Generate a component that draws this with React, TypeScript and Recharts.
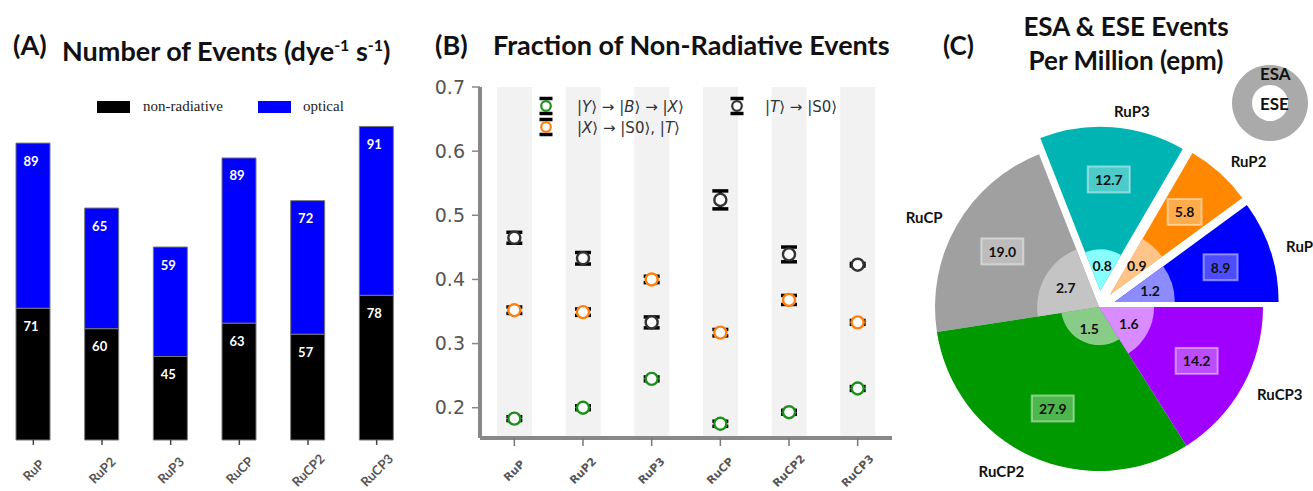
import React from "react";
import {
  BarChart,
  Bar,
  XAxis,
  YAxis,
  LabelList,
  ComposedChart,
  Line,
  ErrorBar,
  PieChart,
  Pie,
  Cell,
} from "recharts";

// ---- data ----
const categories = ["RuP", "RuP2", "RuP3", "RuCP", "RuCP2", "RuCP3"];

// (A) events per dye per second
const nonRadiative = [71, 60, 45, 63, 57, 78];
const optical = [89, 65, 59, 89, 72, 91];

// (B) fraction of non-radiative events
const fracYBX = [0.183, 0.2, 0.245, 0.175, 0.193, 0.23];
const fracYBXErr = [0.003, 0.003, 0.003, 0.004, 0.003, 0.003];
const fracXS0T = [0.352, 0.349, 0.4, 0.317, 0.368, 0.333];
const fracXS0TErr = [0.005, 0.005, 0.005, 0.005, 0.007, 0.003];
const fracTS0 = [0.465, 0.433, 0.333, 0.524, 0.439, 0.423];
const fracTS0Err = [0.0085, 0.009, 0.0085, 0.014, 0.0115, 0.002];
const fracTicks = [0.2, 0.3, 0.4, 0.5, 0.6, 0.7];

// (C) events per million
const esaValues = [8.9, 5.8, 12.7, 19.0, 27.9, 14.2];
const eseValues = [1.2, 0.9, 0.8, 2.7, 1.5, 1.6];
const explode = [0.1, 0.1, 0.1, 0, 0, 0];

const OUTER_COLORS = ["#0000ff", "#ff8800", "#00b4b4", "#a0a0a0", "#009900", "#a000ff"];
const INNER_COLORS = ["#8c8cff", "#ffc48a", "#88ffff", "#c4c4c4", "#88cc88", "#d88cff"];

const eventsData = categories.map((name, i) => ({
  name,
  nonRadiative: nonRadiative[i],
  optical: optical[i],
}));

const fracData = categories.map((name, i) => ({
  name,
  ybx: fracYBX[i],
  ybxErr: fracYBXErr[i],
  xs0t: fracXS0T[i],
  xs0tErr: fracXS0TErr[i],
  ts0: fracTS0[i],
  ts0Err: fracTS0Err[i],
}));

const pieData = categories.map((name, i) => ({
  name,
  esa: esaValues[i],
  ese: eseValues[i],
}));

const R = 164;
const CX = 199;
const CY = 307;
const RAD = Math.PI / 180;
const esaTotal = esaValues.reduce((a, b) => a + b, 0);
const offsets = esaValues.map((v, i) => {
  const start = esaValues.slice(0, i).reduce((a, b) => a + b, 0);
  const mid = ((start + v / 2) / esaTotal) * 360 * RAD;
  return { dx: explode[i] * R * Math.cos(mid), dy: -explode[i] * R * Math.sin(mid) };
});

const calibri = "Lato, 'Open Sans', sans-serif";
const dejavu = "'DejaVu Sans', sans-serif";

const title: React.CSSProperties = {
  position: "absolute",
  fontFamily: calibri,
  fontWeight: 700,
  fontSize: 27,
  color: "#111",
  lineHeight: "32px",
  whiteSpace: "nowrap",
};

function TickA({ x, y, payload }: any) {
  const cy = y + 25;
  return (
    <text
      x={x}
      y={cy}
      transform={`rotate(-45 ${x} ${cy})`}
      textAnchor="middle"
      dominantBaseline="central"
      fontFamily={calibri}
      fontWeight={700}
      fontSize={13}
      fill="#555"
    >
      {payload.value}
    </text>
  );
}

function TickB({ x, y, payload }: any) {
  const cy = y + 25;
  return (
    <text
      x={x}
      y={cy}
      transform={`rotate(-45 ${x} ${cy})`}
      textAnchor="middle"
      dominantBaseline="central"
      fontFamily={dejavu}
      fontWeight={700}
      fontSize={11}
      fill="#555"
    >
      {payload.value}
    </text>
  );
}

const barValue = (props: any) => {
  const { x, y, width, value } = props;
  return (
    <text
      x={x + width / 2 - 2}
      y={y + 17.5}
      textAnchor="middle"
      dominantBaseline="central"
      fill="#fff"
      fontFamily={calibri}
      fontWeight={700}
      fontSize={13}
    >
      {value}
    </text>
  );
};

function ErrIcon({ color }: { color: string }) {
  return (
    <svg width={16} height={20} style={{ display: "block" }}>
      <line x1={1.5} x2={14.5} y1={2.5} y2={2.5} stroke="#000" strokeWidth={3.5} />
      <line x1={1.5} x2={14.5} y1={17.5} y2={17.5} stroke="#000" strokeWidth={3.5} />
      <circle cx={8} cy={10} r={4.8} fill="#fff" stroke={color} strokeWidth={2.2} />
    </svg>
  );
}

const ket = (s: string) => (
  <>
    |<i>{s}</i>⟩
  </>
);

const outerLabel = (i: number) => (p: any) => {
  if (p.index !== i) return null;
  const a = p.midAngle * RAD;
  const c = Math.cos(a);
  const s = Math.sin(a);
  const nx = p.cx + 1.1 * R * c;
  const ny = p.cy - 1.1 * R * s;
  const bx = p.cx + 0.68 * R * c;
  const by = p.cy - 0.68 * R * s;
  const txt = esaValues[i].toFixed(1);
  const bw = txt.length * 8 + 10;
  return (
    <g>
      <text
        x={nx}
        y={ny}
        textAnchor={c >= 0 ? "start" : "end"}
        dominantBaseline="central"
        fontFamily={calibri}
        fontWeight={700}
        fontSize={15}
        fill="#111"
      >
        {categories[i]}
      </text>
      <rect
        x={bx - bw / 2}
        y={by - 13}
        width={bw}
        height={26}
        fill="#fff"
        fillOpacity={0.3}
        stroke="#fff"
        strokeOpacity={0.45}
        strokeWidth={2}
      />
      <text
        x={bx}
        y={by}
        textAnchor="middle"
        dominantBaseline="central"
        fontFamily={calibri}
        fontWeight={700}
        fontSize={14}
        fill="#111"
      >
        {txt}
      </text>
    </g>
  );
};

const innerLabel = (i: number) => (p: any) => {
  if (p.index !== i) return null;
  const a = p.midAngle * RAD;
  const r = 0.62 * p.outerRadius;
  return (
    <text
      x={p.cx + r * Math.cos(a)}
      y={p.cy - r * Math.sin(a)}
      textAnchor="middle"
      dominantBaseline="central"
      fontFamily={calibri}
      fontWeight={700}
      fontSize={14}
      fill="#111"
    >
      {eseValues[i].toFixed(1)}
    </text>
  );
};

export default function App() {
  return (
    <div
      style={{
        position: "absolute",
        left: 0,
        top: 0,
        width: 1313,
        height: 491,
        background: "#fff",
        overflow: "hidden",
      }}
    >
      {/* (A) */}
      <div style={{ position: "absolute", left: -1, top: 0 }}>
        <BarChart
          width={412}
          height={491}
          data={eventsData}
          margin={{ top: 106, right: 0, bottom: 0, left: 0 }}
          barSize={34}
        >
          <XAxis
            dataKey="name"
            axisLine={false}
            tickLine={{ stroke: "#444", strokeWidth: 1.5 }}
            tickSize={5}
            tickMargin={0}
            height={51}
            interval={0}
            tick={<TickA />}
          />
          <YAxis hide domain={[0, 180]} />
          <Bar
            dataKey="nonRadiative"
            stackId="a"
            fill="#000"
            stroke="#777"
            strokeWidth={1}
            isAnimationActive={false}
          >
            <LabelList dataKey="nonRadiative" content={barValue} />
          </Bar>
          <Bar
            dataKey="optical"
            stackId="a"
            fill="#0000ff"
            stroke="#777"
            strokeWidth={1}
            isAnimationActive={false}
          >
            <LabelList dataKey="optical" content={barValue} />
          </Bar>
        </BarChart>
      </div>
      <div style={{ ...title, left: 13, top: 29 }}>(A)</div>
      <div style={{ ...title, left: 62, top: 29 }}>
        Number of Events (dye
        <span style={{ fontSize: 16, verticalAlign: 10 }}>-1</span> s
        <span style={{ fontSize: 16, verticalAlign: 10 }}>-1</span>)
      </div>
      <div
        style={{
          position: "absolute",
          left: 97,
          top: 98,
          display: "flex",
          alignItems: "center",
          fontFamily: "'Liberation Serif', serif",
          fontSize: 15,
          color: "#222",
        }}
      >
        <span style={{ width: 33, height: 12, background: "#000", display: "inline-block" }} />
        <span style={{ marginLeft: 13, width: 115 }}>non-radiative</span>
        <span style={{ width: 33, height: 12, background: "#0000ff", display: "inline-block" }} />
        <span style={{ marginLeft: 12 }}>optical</span>
      </div>

      {/* (B) */}
      <div style={{ position: "absolute", left: 420, top: 0 }}>
        <ComposedChart
          width={480}
          height={491}
          data={fracData}
          margin={{ top: 87, right: 8, bottom: 0, left: 0 }}
        >
          <XAxis
            dataKey="name"
            axisLine={{ stroke: "#888", strokeWidth: 4 }}
            tickLine={{ stroke: "#777", strokeWidth: 1.5 }}
            tickSize={8}
            tickMargin={0}
            height={53}
            interval={0}
            tick={<TickB />}
          />
          <YAxis
            width={60}
            domain={[0.1528, 0.7]}
            allowDataOverflow
            ticks={fracTicks}
            tickFormatter={(v: number) => v.toFixed(1)}
            axisLine={{ stroke: "#888", strokeWidth: 4 }}
            tickLine={{ stroke: "#888", strokeWidth: 1.5 }}
            tickSize={8}
            tickMargin={7}
            tick={{ fontFamily: dejavu, fontSize: 19, fill: "#555" }}
          />
          <Bar
            dataKey="ts0"
            fill="transparent"
            background={{ fill: "#f2f2f2" }}
            barSize={35}
            isAnimationActive={false}
          />
          <Line
            dataKey="ybx"
            stroke="none"
            dot={{ r: 6, stroke: "#1a8f1a", strokeWidth: 2.4, fill: "#fff" }}
            activeDot={false}
            isAnimationActive={false}
          >
            <ErrorBar dataKey="ybxErr" width={8} strokeWidth={3.5} stroke="#000" direction="y" />
          </Line>
          <Line
            dataKey="xs0t"
            stroke="none"
            dot={{ r: 6, stroke: "#ff7f0e", strokeWidth: 2.4, fill: "#fff" }}
            activeDot={false}
            isAnimationActive={false}
          >
            <ErrorBar dataKey="xs0tErr" width={8} strokeWidth={3.5} stroke="#000" direction="y" />
          </Line>
          <Line
            dataKey="ts0"
            stroke="none"
            dot={{ r: 6, stroke: "#333", strokeWidth: 2.4, fill: "#fff" }}
            activeDot={false}
            isAnimationActive={false}
          >
            <ErrorBar dataKey="ts0Err" width={8} strokeWidth={3.5} stroke="#000" direction="y" />
          </Line>
        </ComposedChart>
      </div>
      <div style={{ ...title, left: 435, top: 29 }}>(B)</div>
      <div style={{ ...title, left: 493, top: 29 }}>Fraction of Non-Radiative Events</div>
      <div style={{ position: "absolute", left: 538, top: 96 }}>
        <ErrIcon color="#1a8f1a" />
      </div>
      <div style={{ position: "absolute", left: 538, top: 117 }}>
        <ErrIcon color="#ff7f0e" />
      </div>
      <div style={{ position: "absolute", left: 729, top: 96 }}>
        <ErrIcon color="#333" />
      </div>
      {[
        { left: 577, top: 107, node: <>{ket("Y")} → {ket("B")} → {ket("X")}</> },
        { left: 577, top: 128, node: <>{ket("X")} → |S0⟩, {ket("T")}</> },
        { left: 765, top: 107, node: <>{ket("T")} → |S0⟩</> },
      ].map((l, k) => (
        <div
          key={k}
          style={{
            position: "absolute",
            left: l.left,
            top: l.top - 9,
            lineHeight: "18px",
            fontFamily: dejavu,
            fontSize: 15,
            color: "#333",
            whiteSpace: "nowrap",
          }}
        >
          {l.node}
        </div>
      ))}

      {/* (C) */}
      <div style={{ position: "absolute", left: 900, top: 0 }}>
        <PieChart width={413} height={491} margin={{ top: 0, right: 0, bottom: 0, left: 0 }}>
          {pieData.map((_, i) => (
            <Pie
              key={`esa-${i}`}
              data={pieData}
              dataKey="esa"
              cx={CX + offsets[i].dx}
              cy={CY + offsets[i].dy}
              outerRadius={R}
              startAngle={0}
              endAngle={360}
              stroke="none"
              label={outerLabel(i)}
              labelLine={false}
              isAnimationActive={false}
            >
              {pieData.map((d, j) => (
                <Cell key={d.name} fill={j === i ? OUTER_COLORS[j] : "transparent"} />
              ))}
            </Pie>
          ))}
          {pieData.map((d, i) => (
            <Pie
              key={`ese-${i}`}
              data={pieData}
              dataKey="esa"
              cx={CX + offsets[i].dx}
              cy={CY + offsets[i].dy}
              outerRadius={R * Math.sqrt(d.ese / d.esa)}
              startAngle={0}
              endAngle={360}
              stroke="none"
              label={innerLabel(i)}
              labelLine={false}
              isAnimationActive={false}
            >
              {pieData.map((e, j) => (
                <Cell key={e.name} fill={j === i ? INNER_COLORS[j] : "transparent"} />
              ))}
            </Pie>
          ))}
          <Pie
            data={[{ name: "ESA", v: 1 }]}
            dataKey="v"
            cx={370}
            cy={103}
            innerRadius={18}
            outerRadius={38}
            fill="#aaa"
            stroke="none"
            isAnimationActive={false}
          />
        </PieChart>
      </div>
      <div style={{ ...title, fontSize: 26, left: 943, top: 29 }}>(C)</div>
      <div
        style={{
          ...title,
          fontSize: 26,
          lineHeight: "34px",
          left: 1016,
          width: 220,
          top: 9,
          textAlign: "center",
        }}
      >
        ESA &amp; ESE Events
        <br />
        Per Million (epm)
      </div>
      <div style={{ ...title, fontSize: 17, lineHeight: "20px", left: 1260, top: 64 }}>ESA</div>
      <div style={{ ...title, fontSize: 17, lineHeight: "20px", left: 1260, top: 94 }}>ESE</div>
    </div>
  );
}
